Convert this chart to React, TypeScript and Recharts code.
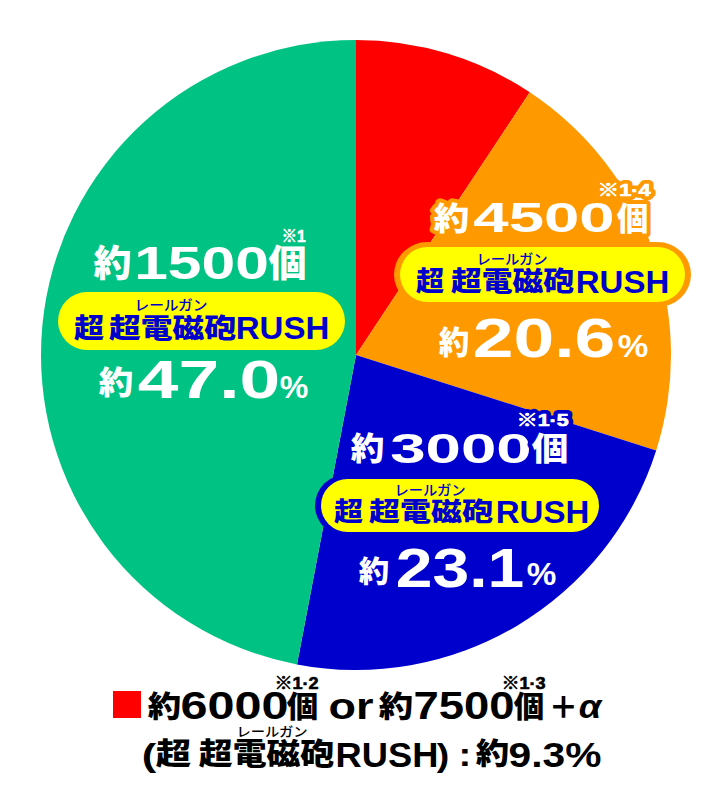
import { PieChart, Pie, Cell } from 'recharts';

// slices, clockwise from 12 o'clock
const categories = ['約6000個 or 約7500個＋α', '約4500個', '約3000個', '約1500個'];
const shares = [9.3, 20.6, 23.1, 47.0];
const sliceColors = ['#ff0000', '#ff9900', '#0000cc', '#00c283'];
const counts = ['6000', '4500', '3000', '1500'];
const notes = ['※1·2', '※1·4', '※1·5', '※1'];
const rushName = ['超', '超電磁砲', 'RUSH'];
const ruby = 'レールガン';

const data = categories.map((name, i) => ({ name, value: shares[i] }));

const CJK = '"Noto Sans CJK JP", sans-serif';
const LAT = '"Liberation Sans", "Noto Sans CJK JP", sans-serif';
const YELLOW = '#ffff00';
const TEXT_BLUE = '#0000cc';

type RunProps = {
  t: string;
  l: number;
  r: number;
  b: number;
  f: number;
  cjk?: boolean;
  fill: string;
  halo?: string;
  weight?: number;
  italic?: boolean;
};

// l/r = left/right edge of the ink, b = baseline
function Run({ t, l, r, b, f, cjk, fill, halo, weight, italic }: RunProps) {
  const pad = f * 0.04;
  return (
    <text
      x={l - pad}
      y={b}
      fontSize={f}
      fontFamily={cjk ? CJK : LAT}
      fontWeight={weight ?? (cjk ? 900 : 700)}
      fontStyle={italic ? 'italic' : 'normal'}
      fill={fill}
      textLength={r - l + 2 * pad}
      lengthAdjust="spacingAndGlyphs"
      stroke={halo ?? 'none'}
      strokeWidth={halo ? 8 : 0}
      strokeLinejoin="round"
      paintOrder="stroke"
    >
      {t}
    </text>
  );
}

// small "※" notes, drawn a little heavier
function Note({ t, l, r, b, fill, halo }: { t: string; l: number; r: number; b: number; fill: string; halo?: string }) {
  return (
    <g>
      {halo && <Run t={t} l={l} r={r} b={b} f={17} fill={fill} halo={halo} weight={900} />}
      <text
        x={l - 0.6}
        y={b}
        fontSize={17}
        fontFamily={LAT}
        fontWeight={900}
        fill={fill}
        stroke={fill}
        strokeWidth={0.6}
        textLength={r - l + 1.2}
        lengthAdjust="spacingAndGlyphs"
      >
        {t}
      </text>
    </g>
  );
}

function Pill({ x, y, w, h, border, bw }: { x: number; y: number; w: number; h: number; border?: string; bw?: number }) {
  const k = bw ?? 0;
  return (
    <g>
      {border && (
        <rect x={x - k} y={y - k + 1} width={w + 2 * k} height={h + 2 * k - 2} rx={(h + 2 * k) / 2} fill={border} />
      )}
      <rect x={x} y={y} width={w} height={h} rx={h / 2} fill={YELLOW} />
    </g>
  );
}

function Overlay() {
  const W = '#ffffff';
  const OR = sliceColors[1];
  const BL = sliceColors[2];
  return (
    <svg width={712} height={809} style={{ position: 'absolute', left: 0, top: 0 }}>
      {/* green slice */}
      <Note t={notes[3]} l={282} r={305} b={242} fill={W} />
      <Run t="約" l={95} r={130} b={277} f={37} cjk fill={W} />
      <Run t={counts[3]} l={136} r={267} b={279} f={46} fill={W} />
      <Run t="個" l={270} r={305} b={277} f={37} cjk fill={W} />
      <Pill x={58} y={292} w={287} h={58} />
      <Run t={ruby} l={135} r={207} b={310} f={14} cjk weight={500} fill={TEXT_BLUE} />
      <Run t={rushName[0]} l={75} r={103} b={338} f={27} cjk fill={TEXT_BLUE} />
      <Run t={rushName[1]} l={110} r={235} b={338} f={27} cjk fill={TEXT_BLUE} />
      <Run t={rushName[2]} l={237} r={328} b={339} f={32} fill={TEXT_BLUE} />
      <Run t="約" l={100} r={132} b={394} f={32} cjk fill={W} />
      <Run t={shares[3].toFixed(1)} l={140} r={278} b={398} f={54} fill={W} />
      <Run t="%" l={281} r={307} b={398} f={32} fill={W} />

      {/* orange slice */}
      <Note t={notes[1]} l={598} r={650} b={196} fill={W} halo={OR} />
      <Run t="約" l={435} r={468} b={230} f={32} cjk fill={W} halo={OR} />
      <Run t={counts[1]} l={475} r={613} b={232} f={42} fill={W} halo={OR} />
      <Run t="個" l={618} r={647} b={230} f={32} cjk fill={W} halo={OR} />
      <Pill x={400} y={247} w={285} h={55} border={OR} bw={6} />
      <Run t={ruby} l={477} r={547} b={264} f={14} cjk weight={500} fill={TEXT_BLUE} />
      <Run t={rushName[0]} l={417} r={443} b={291} f={27} cjk fill={TEXT_BLUE} />
      <Run t={rushName[1]} l={452} r={573} b={291} f={27} cjk fill={TEXT_BLUE} />
      <Run t={rushName[2]} l={577} r={668} b={293} f={32} fill={TEXT_BLUE} />
      <Run t="約" l={440} r={468} b={354} f={32} cjk fill={W} halo={OR} />
      <Run t={shares[1].toFixed(1)} l={475} r={613} b={357} f={56} fill={W} halo={OR} />
      <Run t="%" l={619} r={647} b={357} f={32} fill={W} halo={OR} />

      {/* blue slice */}
      <Note t={notes[2]} l={517} r={568} b={426} fill={W} halo={BL} />
      <Run t="約" l={352} r={383} b={460} f={32} cjk fill={W} halo={BL} />
      <Run t={counts[2]} l={392} r={530} b={463} f={43} fill={W} halo={BL} />
      <Run t="個" l={533} r={567} b={460} f={32} cjk fill={W} halo={BL} />
      <Pill x={321} y={479} w={278} h={53} border={BL} bw={6} />
      <Run t={ruby} l={395} r={465} b={495} f={14} cjk weight={500} fill={TEXT_BLUE} />
      <Run t={rushName[0]} l={335} r={362} b={521} f={26} cjk fill={TEXT_BLUE} />
      <Run t={rushName[1]} l={370} r={492} b={521} f={26} cjk fill={TEXT_BLUE} />
      <Run t={rushName[2]} l={497} r={588} b={523} f={32} fill={TEXT_BLUE} />
      <Run t="約" l={360} r={388} b={582} f={30} cjk fill={W} halo={BL} />
      <Run t={shares[2].toFixed(1)} l={398} r={522} b={587} f={56} fill={W} halo={BL} />
      <Run t="%" l={528} r={555} b={585} f={32} fill={W} halo={BL} />

      {/* legend for the red slice */}
      <rect x={113} y={691} width={28} height={27} fill={sliceColors[0]} />
      <Note t={notes[0]} l={275} r={318} b={689} fill="#000" />
      <Run t="約" l={149} r={180} b={717} f={30} cjk fill="#000" />
      <Run t={counts[0]} l={182} r={287} b={719} f={38} fill="#000" />
      <Run t="個" l={288} r={317} b={717} f={30} cjk fill="#000" />
      <Run t="or" l={330} r={372} b={719} f={37} fill="#000" />
      <Run t="約" l={380} r={412} b={717} f={30} cjk fill="#000" />
      <Run t="7500" l={415} r={513} b={719} f={38} fill="#000" />
      <Run t="個" l={515} r={543} b={717} f={30} cjk fill="#000" />
      <Note t="※1·3" l={502} r={545} b={689} fill="#000" />
      <Run t="＋" l={550} r={577} b={718} f={30} cjk fill="#000" />
      <Run t="α" l={580} r={600} b={718} f={33} italic fill="#000" />

      <Run t={ruby} l={237} r={307} b={736} f={13} cjk weight={500} fill="#000" />
      <Run t="(" l={143} r={155} b={766} f={31} fill="#000" />
      <Run t={rushName[0]} l={157} r={190} b={764} f={30} cjk fill="#000" />
      <Run t={rushName[1]} l={200} r={333} b={764} f={30} cjk fill="#000" />
      <Run t={rushName[2]} l={337} r={437} b={767} f={35} fill="#000" />
      <Run t=")" l={438} r={448} b={766} f={31} fill="#000" />
      <Run t=":" l={460} r={470} b={766} f={34} fill="#000" />
      <Run t="約" l={477} r={508} b={764} f={30} cjk fill="#000" />
      <Run t={`${shares[0]}%`} l={510} r={600} b={767} f={35} fill="#000" />
    </svg>
  );
}

export default function App() {
  return (
    <div style={{ position: 'absolute', left: 0, top: 0, width: 712, height: 809, background: '#fff' }}>
      <PieChart width={712} height={809} margin={{ top: 0, right: 0, bottom: 0, left: 0 }}>
        <Pie
          data={data}
          dataKey="value"
          cx={356}
          cy={355}
          outerRadius={315}
          startAngle={90}
          endAngle={-270}
          stroke="none"
          isAnimationActive={false}
        >
          {data.map((_, i) => (
            <Cell key={`cell-${i}`} fill={sliceColors[i]} />
          ))}
        </Pie>
      </PieChart>
      <Overlay />
    </div>
  );
}
